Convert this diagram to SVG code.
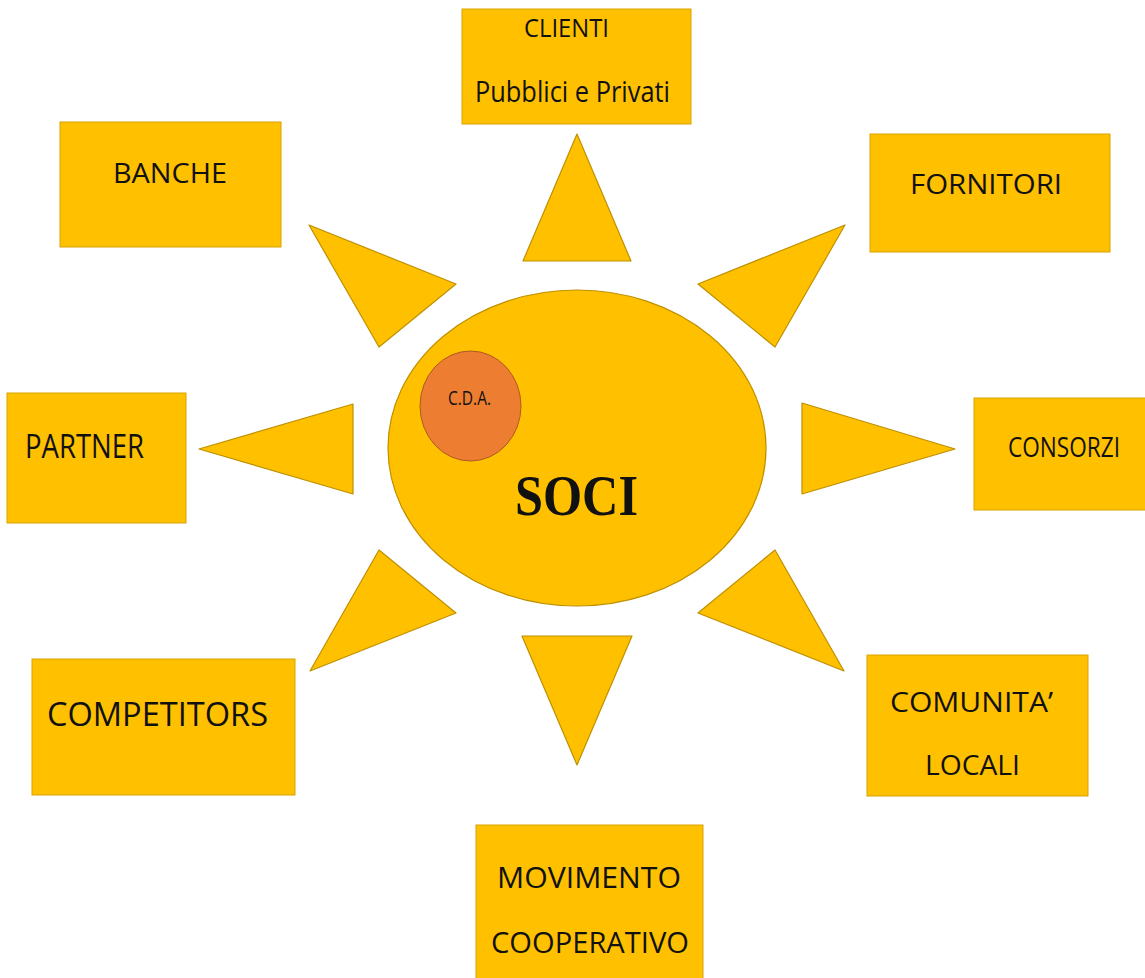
<svg xmlns="http://www.w3.org/2000/svg" width="1145" height="978" viewBox="0 0 1145 978">
<style>
.box{fill:#FFC000;stroke:#D9A300;stroke-width:1}
.ray{fill:#FFC000;stroke:#BF9000;stroke-width:1.2;stroke-linejoin:round}
.lbl{font-family:"Open Sans","Liberation Sans",sans-serif;fill:#111;font-size:28px}
</style>
<rect width="1145" height="978" fill="#fff"/>
<g id="connectors">
<polygon class="ray" points="577,134 523,261 631,261"/>
<polygon class="ray" points="309,225 456,284 379,347"/>
<polygon class="ray" points="845,225 698,284 775,347"/>
<polygon class="ray" points="199,449 353,404 353,494"/>
<polygon class="ray" points="955,449 802,403 802,494"/>
<polygon class="ray" points="379,550 456,613 310,671"/>
<polygon class="ray" points="775,550 698,613 844,671"/>
<polygon class="ray" points="522,636 632,636 577,765"/>
</g>
<g id="soci">
<ellipse cx="577" cy="448" rx="189" ry="158" fill="#FFC000" stroke="#BF9000" stroke-width="1.2"/>
<text x="515" y="515" textLength="123" lengthAdjust="spacingAndGlyphs" font-family="'Liberation Serif',serif" font-weight="bold" font-size="56" fill="#111">SOCI</text>
</g>
<g id="cda">
<ellipse cx="470.5" cy="406" rx="50.5" ry="55" fill="#ED7D31" stroke="#AE5A21" stroke-width="1"/>
<text x="448" y="405" textLength="43" lengthAdjust="spacingAndGlyphs" class="lbl" style="font-size:20px">C.D.A.</text>
</g>
<g id="clienti">
<rect class="box" x="462" y="9" width="229" height="115"/>
<text x="524" y="37" textLength="85" lengthAdjust="spacingAndGlyphs" class="lbl" style="font-size:26px">CLIENTI</text>
<text x="475" y="102" textLength="195" lengthAdjust="spacingAndGlyphs" class="lbl" style="font-size:29px">Pubblici e Privati</text>
</g>
<g id="banche">
<rect class="box" x="60" y="122" width="221" height="125"/>
<text x="113" y="183" textLength="114" lengthAdjust="spacingAndGlyphs" class="lbl">BANCHE</text>
</g>
<g id="fornitori">
<rect class="box" x="870" y="134" width="240" height="118"/>
<text x="910" y="194" textLength="152" lengthAdjust="spacingAndGlyphs" class="lbl">FORNITORI</text>
</g>
<g id="partner">
<rect class="box" x="7" y="393" width="179" height="130"/>
<text x="25" y="458" textLength="119" lengthAdjust="spacingAndGlyphs" class="lbl" style="font-size:32px">PARTNER</text>
</g>
<g id="consorzi">
<rect class="box" x="974" y="398" width="175" height="112"/>
<text x="1008" y="457" textLength="112" lengthAdjust="spacingAndGlyphs" class="lbl">CONSORZI</text>
</g>
<g id="competitors">
<rect class="box" x="32" y="659" width="263" height="136"/>
<text x="47" y="726" textLength="221" lengthAdjust="spacingAndGlyphs" class="lbl" style="font-size:32px">COMPETITORS</text>
</g>
<g id="comunita">
<rect class="box" x="867" y="655" width="221" height="141"/>
<text x="890" y="712" textLength="163" lengthAdjust="spacingAndGlyphs" class="lbl">COMUNITA’</text>
<text x="925" y="775" textLength="95" lengthAdjust="spacingAndGlyphs" class="lbl">LOCALI</text>
</g>
<g id="movimento">
<rect class="box" x="476" y="825" width="227" height="160"/>
<text x="497" y="888" textLength="184" lengthAdjust="spacingAndGlyphs" class="lbl" style="font-size:30px">MOVIMENTO</text>
<text x="491" y="953" textLength="198" lengthAdjust="spacingAndGlyphs" class="lbl" style="font-size:30px">COOPERATIVO</text>
</g>
</svg>
